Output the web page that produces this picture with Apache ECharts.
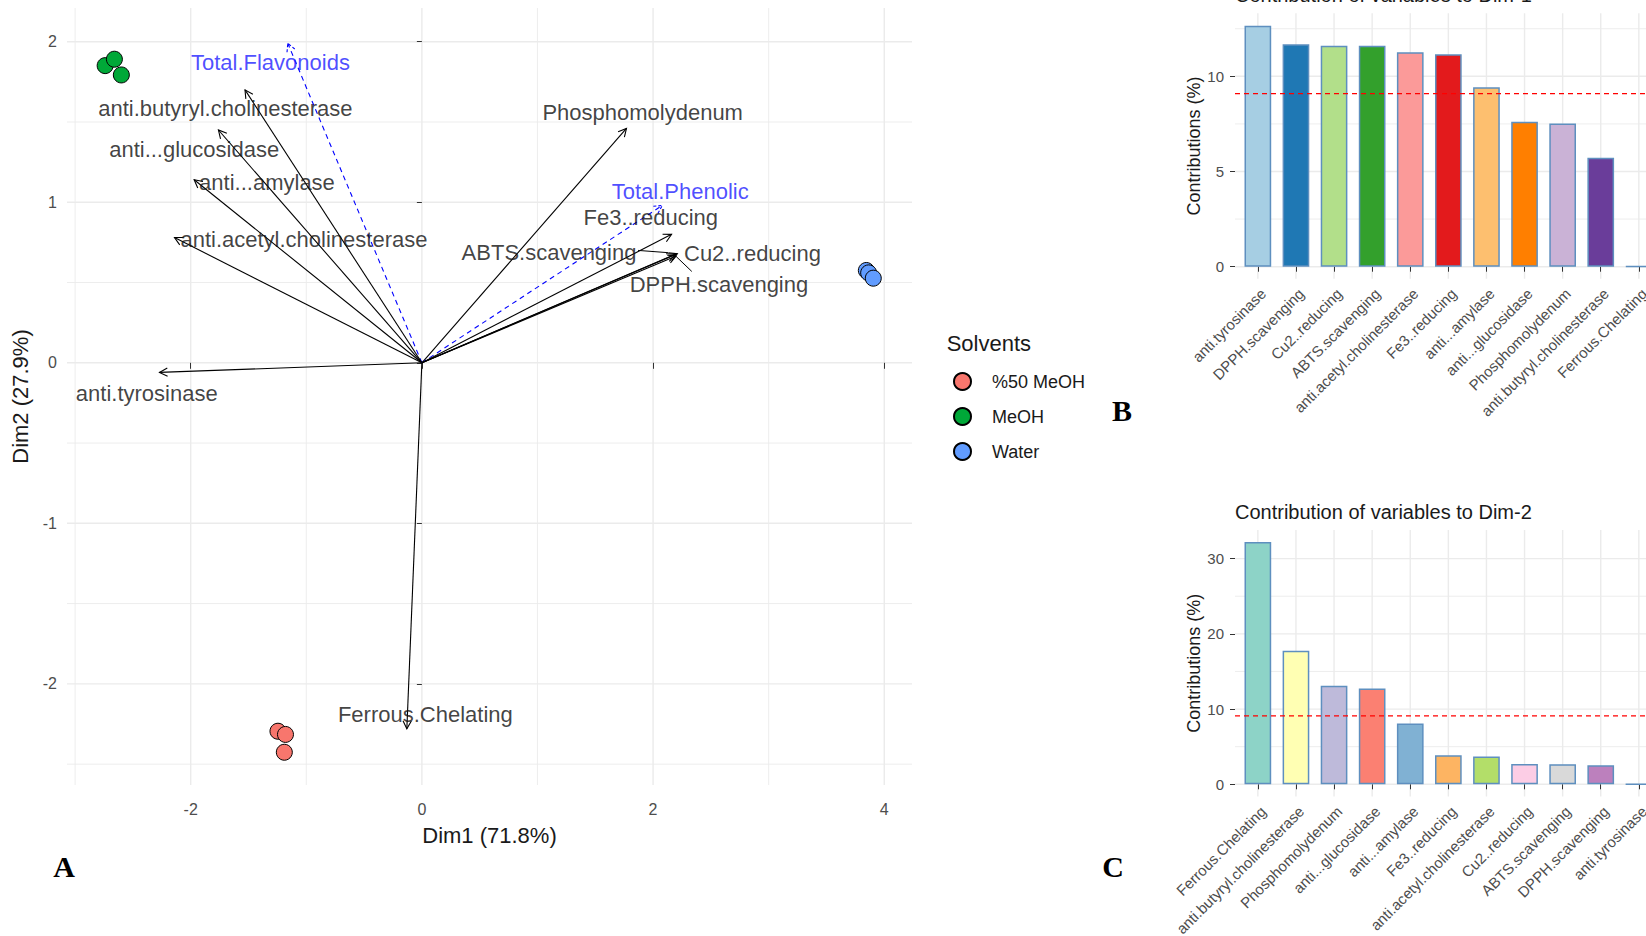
<!DOCTYPE html>
<html><head><meta charset="utf-8">
<script src="https://cdn.jsdelivr.net/npm/echarts@6/dist/echarts.min.js"></script>
<style>html,body{margin:0;padding:0;background:#fff}#c{width:1646px;height:936px}</style>
</head><body><div id="c"></div><script>
// ================= DATA =================
// Panel A: PCA biplot variables (arrow tips)
const varNames = ['Total.Flavonoids','anti.butyryl.cholinesterase','anti...glucosidase','anti...amylase','anti.acetyl.cholinesterase','anti.tyrosinase','Ferrous.Chelating','Phosphomolydenum','Total.Phenolic','Fe3..reducing','Cu2..reducing','DPPH.scavenging','ABTS.scavenging'];
const varSupplementary = [true,false,false,false,false,false,false,false,true,false,false,false,false];
const varDim1 = [-1.16,-1.53,-1.76,-1.97,-2.14,-2.27,-0.13,1.77,2.08,2.16,2.21,2.20,2.19];
const varDim2 = [1.99,1.70,1.45,1.14,0.78,-0.06,-2.28,1.46,0.98,0.80,0.68,0.665,0.675];
// label anchor positions (as placed in the figure)
const labelDim1 = [-1.31,-1.70,-1.97,-1.34,-1.02,-2.38,0.03,1.91,2.235,1.98,2.86,2.57,1.10];
const labelDim2 = [1.868,1.587,1.33,1.122,0.77,-0.19,-2.19,1.56,1.064,0.905,0.683,0.487,0.684];
// label connector segments [x0,y0,x1,y1]
const segABTS = [1.87,0.70,2.13,0.686];
const segDPPH = [2.335,0.569,2.20,0.662];
// individuals
const groups = ['%50 MeOH','MeOH','Water'];
const indDim1 = [[-1.245,-1.18,-1.19],[-2.74,-2.66,-2.60],[3.845,3.865,3.905]];
const indDim2 = [[-2.295,-2.315,-2.426],[1.851,1.891,1.793],[0.575,0.56,0.527]];
// axis ticks panel A
const xTicksA = [-2,0,2,4], xMinorA = [-3,-1,1,3];
const yTicksA = [-2,-1,0,1,2], yMinorA = [-2.5,-1.5,-0.5,0.5,1.5];

// Panel B: contribution to Dim-1
const catsB = ['anti.tyrosinase','DPPH.scavenging','Cu2..reducing','ABTS.scavenging','anti.acetyl.cholinesterase','Fe3..reducing','anti...amylase','anti...glucosidase','Phosphomolydenum','anti.butyryl.cholinesterase','Ferrous.Chelating'];
const valsB = [12.66,11.69,11.61,11.60,11.27,11.16,9.43,7.62,7.52,5.72,0.03];
const yTicksB = [0,5,10], yMinorB = [2.5,7.5,12.5];
// Panel C: contribution to Dim-2
const catsC = ['Ferrous.Chelating','anti.butyryl.cholinesterase','Phosphomolydenum','anti...glucosidase','anti...amylase','Fe3..reducing','anti.acetyl.cholinesterase','Cu2..reducing','ABTS.scavenging','DPPH.scavenging','anti.tyrosinase'];
const valsC = [32.2,17.77,13.1,12.75,8.08,3.86,3.68,2.71,2.68,2.53,0.03];
const yTicksC = [0,10,20,30], yMinorC = [5,15,25];
const expectedContrib = 100 / 11;

// ================= STYLE =================
const FONT = '"Liberation Sans", Arial, Helvetica, sans-serif';
const groupColors = ['#F8766D','#00A838','#619CFF'];
const paletteB = ['#A6CEE3','#1F78B4','#B2DF8A','#33A02C','#FB9A99','#E31A1C','#FDBF6F','#FF7F00','#CAB2D6','#6A3D9A','#FFFF99'];
const paletteC = ['#8DD3C7','#FFFFB3','#BEBADA','#FB8072','#80B1D3','#FDB462','#B3DE69','#FCCDE5','#D9D9D9','#BC80BD','#CCEBC5'];

function gridData(xMaj, xMin, yMaj, yMin) {
  const d = [];
  xMin.forEach(v => d.push([0, v, 0]));
  yMin.forEach(v => d.push([1, v, 0]));
  xMaj.forEach(v => d.push([0, v, 1]));
  yMaj.forEach(v => d.push([1, v, 1]));
  return d;
}
function gridLineItem(params, api) {
  const cs = params.coordSys;
  const dir = api.value(0), v = api.value(1), major = api.value(2);
  let shape;
  if (dir === 0) {
    const x = api.coord([v, 0])[0];
    shape = {x1: x, y1: cs.y, x2: x, y2: cs.y + cs.height};
  } else {
    const y = api.coord([0, v])[1];
    shape = {x1: cs.x, y1: y, x2: cs.x + cs.width, y2: y};
  }
  return {type: 'line', shape, style: {stroke: '#EBEBEB', lineWidth: major ? 1.4 : 0.9}};
}
function arrowItem(params, api) {
  const p0 = api.coord([api.value(0), api.value(1)]);
  const p1 = api.coord([api.value(2), api.value(3)]);
  const kind = api.value(4); // 0 active, 1 supplementary, 2 connector
  const color = kind === 1 ? '#0000FF' : '#000000';
  const style = {stroke: color, lineWidth: kind === 2 ? 1 : 1.1, fill: null, lineDash: kind === 1 ? [5, 4] : null};
  const children = [{type: 'polyline', shape: {points: [p0, p1]}, style}];
  if (kind !== 2) {
    const ang = Math.atan2(p1[1] - p0[1], p1[0] - p0[0]);
    const L = 9, a = Math.PI / 6.5;
    const h1 = [p1[0] - L * Math.cos(ang - a), p1[1] - L * Math.sin(ang - a)];
    const h2 = [p1[0] - L * Math.cos(ang + a), p1[1] - L * Math.sin(ang + a)];
    children.push({type: 'polyline', shape: {points: [h1, p1, h2]}, style: Object.assign({}, style, {lineDash: kind === 1 ? [3, 2] : null})});
  }
  return {type: 'group', children};
}
function hLineItem(params, api) {
  const cs = params.coordSys;
  const y = api.coord([1, api.value(1)])[1];
  return {type: 'line', shape: {x1: cs.x, y1: y, x2: cs.x + cs.width, y2: y},
          style: {stroke: '#FF0000', lineWidth: 1.2, lineDash: [5, 4]}};
}

const arrowData = varNames.map((n, i) => [0, 0, varDim1[i], varDim2[i], varSupplementary[i] ? 1 : 0]);
const connectorData = [segABTS.concat([2]), segDPPH.concat([2])];
const labelData = varNames.map((n, i) => ({
  value: [labelDim1[i], labelDim2[i]], name: n,
  label: {color: varSupplementary[i] ? '#1F1FFF' : '#111111'}
}));

function barAxisX(idx, cats) {
  const ticks = cats.map((c, i) => i + 1);
  return {
    gridIndex: idx, type: 'value', min: 0.4, max: 11.6,
    axisLine: {show: false},
    axisTick: {show: true, customValues: ticks, length: 5, lineStyle: {color: '#333', width: 1}},
    axisLabel: {customValues: ticks, rotate: 45, margin: 7, verticalAlign: 'top', align: 'right',
                color: '#4D4D4D', fontSize: 15, fontFamily: FONT,
                formatter: v => cats[Math.round(v) - 1] || ''},
    splitLine: {show: false}
  };
}
function barAxisY(idx, min, max, ticks) {
  return {
    gridIndex: idx, type: 'value', min, max,
    axisLine: {show: false},
    axisTick: {show: true, customValues: ticks, length: 5, lineStyle: {color: '#333', width: 1}},
    axisLabel: {customValues: ticks, color: '#4D4D4D', fontSize: 15, margin: 11, fontFamily: FONT},
    splitLine: {show: false},
    name: 'Contributions (%)', nameLocation: 'middle', nameGap: 30,
    nameTextStyle: {fontSize: 18, color: '#1a1a1a', fontFamily: FONT}
  };
}
function barSeries(idx, vals, palette) {
  return {
    type: 'bar', xAxisIndex: idx, yAxisIndex: idx, barWidth: 26.7, z: 3,
    data: vals.map((v, i) => ({value: [i + 1, v], itemStyle: {color: palette[i]}})),
    itemStyle: {borderColor: '#5E8FBF', borderWidth: 1.5},
    emphasis: {disabled: true}, silent: true, animation: false
  };
}

const series = [
  {type: 'custom', xAxisIndex: 0, yAxisIndex: 0, z: 0, silent: true, renderItem: gridLineItem,
   data: gridData(xTicksA, xMinorA, yTicksA, yMinorA), animation: false},
  {type: 'custom', xAxisIndex: 1, yAxisIndex: 1, z: 0, silent: true, renderItem: gridLineItem,
   data: gridData(catsB.map((c, i) => i + 1), [], yTicksB, yMinorB), animation: false},
  {type: 'custom', xAxisIndex: 2, yAxisIndex: 2, z: 0, silent: true, renderItem: gridLineItem,
   data: gridData(catsC.map((c, i) => i + 1), [], yTicksC, yMinorC), animation: false},
  {type: 'custom', xAxisIndex: 0, yAxisIndex: 0, z: 3, silent: true, renderItem: arrowItem,
   data: arrowData.concat(connectorData), animation: false},
  {type: 'scatter', xAxisIndex: 0, yAxisIndex: 0, z: 4, silent: true, symbolSize: 1,
   itemStyle: {color: 'rgba(0,0,0,0)'}, data: labelData, animation: false,
   label: {show: true, position: 'inside', formatter: '{b}', fontSize: 22, fontFamily: FONT}}
];
groups.forEach((g, gi) => {
  series.push({
    type: 'scatter', name: g, xAxisIndex: 0, yAxisIndex: 0, z: 5, symbol: 'circle', symbolSize: 16,
    itemStyle: {color: groupColors[gi], borderColor: '#000', borderWidth: 1, opacity: 1},
    data: indDim1[gi].map((x, k) => [x, indDim2[gi][k]]), animation: false
  });
});
series.push(barSeries(1, valsB, paletteB));
series.push(barSeries(2, valsC, paletteC));
series.push({type: 'custom', xAxisIndex: 1, yAxisIndex: 1, z: 6, silent: true, renderItem: hLineItem, data: [[1, expectedContrib]], animation: false});
series.push({type: 'custom', xAxisIndex: 2, yAxisIndex: 2, z: 6, silent: true, renderItem: hLineItem, data: [[1, expectedContrib]], animation: false});

const option = {
  backgroundColor: '#ffffff',
  animation: false,
  textStyle: {fontFamily: FONT},
  grid: [
    {left: 67, top: 8, width: 845, height: 777, outerBoundsMode: 'none', containLabel: false},
    {left: 1235, top: 13.3, width: 426.7, height: 265.4, outerBoundsMode: 'none', containLabel: false},
    {left: 1235, top: 530, width: 426.7, height: 266.4, outerBoundsMode: 'none', containLabel: false}
  ],
  xAxis: [
    {gridIndex: 0, type: 'value', min: -3.07, max: 4.24,
     axisLine: {show: false},
     axisTick: {show: true, customValues: xTicksA, length: 6, lineStyle: {color: '#333', width: 1}},
     axisLabel: {customValues: xTicksA, color: '#4D4D4D', fontSize: 16, margin: 16, fontFamily: FONT},
     splitLine: {show: false},
     name: 'Dim1 (71.8%)', nameLocation: 'middle', nameGap: 39,
     nameTextStyle: {fontSize: 22, color: '#1a1a1a', fontFamily: FONT}},
    barAxisX(1, catsB),
    barAxisX(2, catsC)
  ],
  yAxis: [
    {gridIndex: 0, type: 'value', min: -2.63, max: 2.21,
     axisLine: {show: false},
     axisTick: {show: true, customValues: yTicksA, length: 5, lineStyle: {color: '#333', width: 1}},
     axisLabel: {customValues: yTicksA, color: '#4D4D4D', fontSize: 16, margin: 10, fontFamily: FONT},
     splitLine: {show: false},
     name: 'Dim2 (27.9%)', nameLocation: 'middle', nameGap: 31,
     nameTextStyle: {fontSize: 22, color: '#1a1a1a', fontFamily: FONT}},
    barAxisY(1, -0.63, 13.31, yTicksB),
    barAxisY(2, -1.61, 33.81, yTicksC)
  ],
  legend: {
    data: groups, orient: 'vertical', left: 948, top: 367,
    itemWidth: 49, itemHeight: 17, itemGap: 16,
    textStyle: {fontSize: 18, color: '#1a1a1a', fontFamily: FONT},
    selectedMode: false
  },
  graphic: [
    {type: 'text', x: 946.7, y: 343, silent: true,
     style: {text: 'Solvents', font: '22px ' + FONT, fill: '#1a1a1a', align: 'left', verticalAlign: 'middle', textAlign: 'left', textVerticalAlign: 'middle'}},
    {type: 'text', x: 1235, y: -5, silent: true,
     style: {text: 'Contribution of variables to Dim-1', font: '20px ' + FONT, fill: '#1a1a1a', align: 'left', verticalAlign: 'middle', textAlign: 'left', textVerticalAlign: 'middle'}},
    {type: 'text', x: 1235, y: 511.7, silent: true,
     style: {text: 'Contribution of variables to Dim-2', font: '20px ' + FONT, fill: '#1a1a1a', align: 'left', verticalAlign: 'middle', textAlign: 'left', textVerticalAlign: 'middle'}},
    {type: 'text', x: 64, y: 866, silent: true,
     style: {text: 'A', font: 'bold 30px "Liberation Serif", "Times New Roman", serif', fill: '#000', align: 'center', verticalAlign: 'middle', textAlign: 'center', textVerticalAlign: 'middle'}},
    {type: 'text', x: 1122, y: 410, silent: true,
     style: {text: 'B', font: 'bold 30px "Liberation Serif", "Times New Roman", serif', fill: '#000', align: 'center', verticalAlign: 'middle', textAlign: 'center', textVerticalAlign: 'middle'}},
    {type: 'text', x: 1113, y: 866, silent: true,
     style: {text: 'C', font: 'bold 30px "Liberation Serif", "Times New Roman", serif', fill: '#000', align: 'center', verticalAlign: 'middle', textAlign: 'center', textVerticalAlign: 'middle'}}
  ],
  series
};
const chart = echarts.init(document.getElementById('c'), null, {renderer: 'svg'});
chart.setOption(option);
</script></body></html>
